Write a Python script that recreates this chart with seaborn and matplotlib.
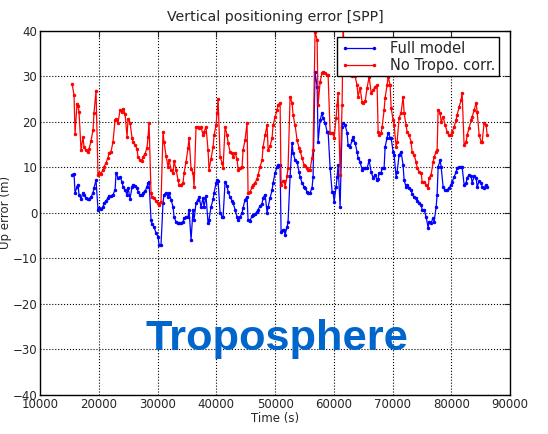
import numpy as np
import pandas as pd
import matplotlib
matplotlib.use("Agg")
import matplotlib.pyplot as plt
import seaborn as sns

# epochs (s) and vertical errors (m)
time_s = [
    15450, 15790, 15960, 16300, 16470, 16640, 16980, 17320, 17490, 17830,
    18170, 18340, 18680, 19020, 19190, 19530, 19870, 20040, 20380, 20720,
    20890, 21230, 21570, 21740, 22080, 22420, 22770, 22940, 23280, 23620,
    23960, 24130, 24470, 24810, 24980, 25320, 25660, 25830, 26170, 26510,
    26680, 27020, 27360, 27530, 27870, 28210, 28380, 28550, 28890, 29060,
    29400, 29740, 30080, 30250, 30590, 30930, 31100, 31450, 31790, 31960,
    32300, 32640, 32810, 33150, 33490, 33660, 34000, 34340, 34510, 34850,
    35190, 35360, 35700, 36040, 36210, 36550, 36890, 37060, 37400, 37740,
    37910, 38250, 38590, 38760, 39100, 39450, 39620, 39960, 40130, 40300,
    40640, 40980, 41150, 41490, 41830, 42000, 42340, 42680, 42850, 43190,
    43530, 43700, 44040, 44380, 44550, 44890, 45230, 45400, 45740, 46080,
    46250, 46590, 46930, 47100, 47440, 47780, 47950, 48300, 48640, 48810,
    49150, 49490, 49660, 50000, 50340, 50510, 50850, 51020, 51360, 51530,
    51700, 52040, 52210, 52550, 52890, 53060, 53400, 53740, 54080, 54250,
    54590, 54930, 55100, 55440, 55610, 55950, 56290, 56460, 56800, 57150,
    57320, 57660, 58000, 58170, 58510, 58850, 59020, 59360, 59700, 59870,
    60040, 60380, 60550, 60720, 61060, 61400, 61570, 61910, 62250, 62420,
    62760, 63100, 63270, 63610, 63950, 64120, 64460, 64800, 64970, 65320,
    65660, 66000, 66340, 66680, 67020, 67360, 67530, 67700, 68040, 68210,
    68550, 68720, 69060, 69230, 69570, 69740, 70080, 70250, 70590, 70760,
    71100, 71440, 71780, 71950, 72290, 72460, 72800, 73140, 73310, 73650,
    74000, 74170, 74510, 74850, 75020, 75360, 75700, 76040, 76210, 76550,
    76890, 77060, 77400, 77570, 77740, 78080, 78250, 78590, 78930, 79270,
    79610, 79950, 80120, 80460, 80800, 80970, 81310, 81650, 81820, 82160,
    82510, 82680, 83020, 83360, 83530, 83870, 84210, 84380, 84720, 85060,
    85230, 85570, 85910, 86080,
]

full_model = [
    8.4, 8.6, 4.4, 5.7, 6.2, 4.0, 3.1, 4.4, 4.0, 3.3,
    3.1, 3.1, 3.5, 4.4, 5.5, 7.2, 0.7, 1.1, 0.9, 1.3,
    2.2, 2.6, 3.3, 3.7, 3.7, 4.0, 5.0, 8.8, 7.7, 7.9,
    6.8, 5.7, 5.0, 4.0, 5.5, 3.1, 5.7, 6.2, 6.0, 5.5,
    4.6, 4.0, 4.0, 4.4, 4.8, 5.7, 6.6, 6.8, -1.5, -2.4,
    -3.1, -4.4, -5.3, -7.0, -7.0, 2.2, 4.0, 4.4, 3.5, 4.4,
    2.9, 1.3, -0.9, -2.0, -2.2, -2.2, -2.2, -2.0, -1.1, -0.9,
    -0.9, 0.7, -5.9, 0.7, -1.5, 2.2, 2.9, 3.5, 1.3, 3.3,
    1.3, 3.7, -2.2, -1.5, 1.3, 3.0, 4.4, 6.6, 7.2, 7.0,
    0.0, -0.8, -0.9, 6.8, 5.9, 4.6, 3.5, 2.6, 2.2, 0.7,
    -0.9, -1.5, -0.9, 0.0, 1.1, 2.9, 3.5, -1.5, -1.7, -0.7,
    -0.4, -0.2, 0.2, 0.7, 1.5, 2.0, 3.3, 4.0, 0.0, 1.3,
    3.3, 5.0, 6.6, 8.8, 10.1, 10.5, 10.5, -4.2, -3.7, -3.8,
    -4.8, -3.1, -1.9, 8.0, 15.4, 13.2, 11.6, 11.2, 9.0, 7.9,
    6.6, 5.7, 5.5, 4.6, 4.4, 4.4, 5.5, 7.9, 31.0, 27.7,
    15.6, 20.4, 22.0, 20.9, 19.8, 17.8, 17.8, 9.9, 4.6, 4.6,
    2.4, 5.7, 7.9, 10.5, 1.3, 18.9, 19.8, 19.3, 17.6, 14.9,
    14.5, 16.0, 16.7, 15.4, 13.4, 12.1, 11.2, 9.5, 9.9, 9.8,
    9.8, 11.6, 9.0, 7.7, 8.4, 7.2, 7.5, 8.8, 8.8, 9.9,
    9.9, 14.5, 16.5, 17.6, 16.5, 16.5, 13.4, 12.7, 7.9, 9.0,
    12.7, 13.4, 10.5, 7.2, 5.7, 6.2, 5.5, 5.0, 4.2, 3.5,
    3.3, 2.6, 2.2, 1.8, 0.7, 0.7, -0.9, -3.3, -1.9, -2.2,
    -1.1, -1.9, 1.3, 4.0, 10.1, 11.6, 10.1, 5.7, 5.0, 5.0,
    5.5, 6.2, 6.8, 7.9, 9.0, 9.9, 10.1, 10.1, 10.1, 6.2,
    6.6, 7.7, 8.4, 8.0, 6.6, 8.0, 7.7, 5.7, 7.0, 6.6,
    5.7, 5.5, 6.2, 5.7,
]

no_tropo = [
    28.4, 25.9, 17.4, 24.0, 23.5, 22.2, 13.8, 16.7, 14.5, 13.8,
    13.4, 14.0, 15.8, 18.2, 22.0, 26.8, 8.4, 8.8, 8.6, 9.5,
    10.1, 11.0, 12.1, 13.2, 13.4, 15.6, 20.4, 20.6, 19.8, 22.6,
    22.2, 22.9, 21.8, 16.7, 20.7, 19.8, 16.5, 15.6, 15.0, 14.0,
    12.2, 11.6, 11.5, 12.3, 13.0, 14.3, 16.7, 19.8, 4.4, 3.5,
    3.3, 2.6, 2.2, 1.8, 2.4, 17.8, 15.6, 12.5, 10.1, 11.6,
    9.5, 8.8, 11.4, 9.5, 7.2, 6.2, 6.2, 6.6, 8.8, 11.2,
    14.3, 16.5, 9.7, 8.8, 5.7, 18.9, 18.9, 18.7, 18.9, 17.1,
    17.8, 18.9, 13.8, 9.5, 11.8, 14.5, 17.1, 19.3, 22.0, 25.0,
    12.3, 11.0, 9.9, 18.9, 17.1, 15.4, 13.4, 13.2, 12.3, 13.2,
    11.9, 9.5, 9.9, 10.1, 13.8, 16.0, 19.8, 4.4, 4.6, 5.7,
    6.2, 6.6, 7.5, 8.4, 10.1, 11.6, 14.5, 17.1, 19.3, 13.8,
    14.7, 16.5, 19.3, 21.1, 22.6, 23.7, 24.2, 6.2, 7.0, 7.0,
    5.7, 8.1, 9.9, 25.5, 24.2, 21.5, 19.3, 16.0, 14.3, 13.6,
    12.1, 10.5, 10.2, 9.9, 9.5, 9.5, 12.1, 13.8, 39.8, 38.0,
    23.7, 28.8, 30.8, 31.0, 30.8, 30.3, 30.3, 17.6, 17.6, 17.6,
    16.5, 20.9, 23.7, 26.4, 8.4, 23.7, 41.0, 31.5, 30.5, 31.5,
    30.8, 30.0, 31.0, 30.0, 28.0, 25.5, 27.5, 24.4, 24.2, 24.5,
    27.5, 29.9, 26.4, 27.0, 27.7, 28.0, 17.8, 17.1, 17.5, 18.9,
    22.6, 25.3, 28.1, 29.9, 28.1, 23.1, 20.4, 19.3, 14.5, 15.6,
    20.9, 22.0, 25.5, 22.0, 19.3, 17.8, 17.1, 15.6, 13.4, 12.7,
    11.2, 9.9, 9.0, 8.8, 6.8, 6.8, 6.2, 5.5, 7.7, 8.4,
    11.2, 12.3, 13.4, 13.8, 22.6, 22.0, 20.0, 21.1, 19.3, 17.8,
    17.1, 17.1, 17.8, 18.9, 20.4, 21.5, 23.3, 24.8, 26.4, 14.9,
    15.6, 17.1, 18.7, 20.4, 21.1, 22.6, 24.2, 22.2, 17.1, 15.6,
    15.6, 19.8, 19.3, 17.1,
]

df = pd.DataFrame({"time": time_s, "full": full_model, "notropo": no_tropo})

sns.set_style("white")
plt.rcParams["font.family"] = ["DejaVu Sans"]

fig = plt.figure(figsize=(5.48, 4.34), dpi=100)
ax = fig.add_axes([0.073, 0.090, 0.858, 0.839])

sns.lineplot(data=df, x="time", y="full", ax=ax, color="b", marker=".",
             markersize=3.5, mec="b", linewidth=0.9, sort=False,
             estimator=None, label="Full model")
sns.lineplot(data=df, x="time", y="notropo", ax=ax, color="r", marker=".",
             markersize=3.5, mec="r", linewidth=0.9, sort=False,
             estimator=None, label="No Tropo. corr.")

ax.set_xlim(10000, 90000)
ax.set_ylim(-40, 40)
ax.set_xticks(np.arange(10000, 90001, 10000))
ax.set_yticks(np.arange(-40, 41, 10))
ax.tick_params(direction="in", length=4, labelsize=8.5, pad=2,
               top=True, right=True)
ax.grid(True, linestyle=":", color="k", linewidth=0.8)
for s in ax.spines.values():
    s.set_color("k")
    s.set_linewidth(1.0)

ax.set_title("Vertical positioning error [SPP]", fontsize=10.2, pad=7)
ax.set_xlabel("Time (s)", fontsize=8.5, labelpad=1)
ax.set_ylabel("Up error (m)", fontsize=8.5, labelpad=0)

leg = ax.legend(loc="upper right", numpoints=2, fontsize=10.5, fancybox=False,
                handlelength=2.6, borderpad=0.25, labelspacing=0.15,
                borderaxespad=0.3, bbox_to_anchor=(0.985, 0.995))
leg.get_frame().set_edgecolor("k")
leg.get_frame().set_linewidth(1.0)
leg.get_frame().set_alpha(1)

ax.text(50300, -30.2, "Troposphere", color="#0066cc", fontsize=31.2,
        fontweight="bold", family="Liberation Sans", ha="center",
        va="baseline")

fig.savefig("out.png", dpi=100)
